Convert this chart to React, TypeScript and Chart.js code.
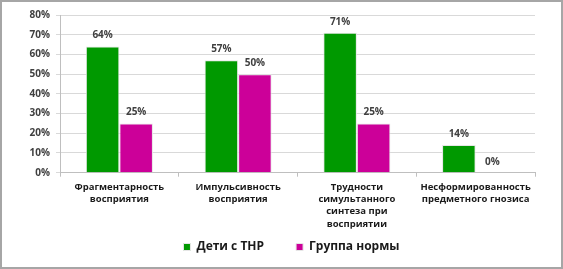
import React, { useEffect, useRef } from "react";
import { Chart, registerables } from "chart.js";

Chart.register(...registerables);

const categories: string[][] = [
  ["Фрагментарность", "восприятия"],
  ["Импульсивность", "восприятия"],
  ["Трудности", "симультанного", "синтеза при", "восприятии"],
  ["Несформированность", "предметного гнозиса"],
];
const seriesNames = ["Дети с ТНР", "Группа нормы"];
const childrenTNR = [64, 57, 71, 14];
const normGroup = [25, 50, 25, 0];
const yTicks = [0, 10, 20, 30, 40, 50, 60, 70, 80];

const GREEN = "#009900";
const PINK = "#cc0099";
const FONT = "'Open Sans', 'Noto Sans', sans-serif";

const valueLabels = {
  id: "valueLabels",
  afterDatasetsDraw(chart: any) {
    const ctx = chart.ctx;
    ctx.save();
    ctx.font = `bold 10px ${FONT}`;
    ctx.fillStyle = "#404040";
    ctx.textAlign = "center";
    ctx.textBaseline = "middle";
    chart.data.datasets.forEach((ds: any, di: number) => {
      const meta = chart.getDatasetMeta(di);
      meta.data.forEach((bar: any, i: number) => {
        ctx.fillText(`${ds.data[i]}%`, bar.x, bar.y - 11);
      });
    });
    ctx.restore();
  },
};

// move the legend box to its place under the axis labels
const legendShift = {
  id: "legendShift",
  beforeDraw(chart: any) {
    const lg = chart.legend;
    if (!lg) return;
    const dy = -19.7;
    const dx = 24;
    lg.top += dy;
    lg.bottom += dy;
    lg.left += dx;
    lg.right += dx;
  },
};

const frame = {
  id: "frame",
  afterDraw(chart: any) {
    const ctx = chart.ctx;
    ctx.save();
    ctx.strokeStyle = "#a6a6a6";
    ctx.lineWidth = 2;
    ctx.strokeRect(1, 1, chart.width - 2, chart.height - 2);
    ctx.restore();
  },
};

export default function App() {
  const ref = useRef<HTMLCanvasElement>(null);
  useEffect(() => {
    document.body.style.margin = "0";
    const chart = new Chart(ref.current!, {
      type: "bar",
      data: {
        labels: categories,
        datasets: [
          {
            label: seriesNames[0],
            data: childrenTNR,
            backgroundColor: GREEN,
            borderColor: "#e6e6e6",
            borderWidth: 1,
            categoryPercentage: 0.565,
            barPercentage: 1,
          },
          {
            label: seriesNames[1],
            data: normGroup,
            backgroundColor: PINK,
            borderColor: "#e6e6e6",
            borderWidth: 1,
            categoryPercentage: 0.565,
            barPercentage: 1,
          },
        ],
      },
      options: {
        animation: false,
        responsive: false,
        maintainAspectRatio: false,
        layout: { padding: { top: 15, left: 0, right: 28, bottom: -13.7 } },
        plugins: {
          tooltip: { enabled: false },
          legend: {
            position: "bottom",
            align: "center",
            labels: {
              boxWidth: 7,
              boxHeight: 7,
              padding: 32,
              color: "#1a1a1a",
              font: { family: FONT, size: 12, weight: "bold" },
            },
          },
        },
        scales: {
          x: {
            grid: {
              offset: true,
              drawOnChartArea: false,
              drawTicks: true,
              tickLength: 4,
              color: "#bfbfbf",
            },
            border: { color: "#bfbfbf" },
            ticks: {
              autoSkip: false,
              maxRotation: 0,
              minRotation: 0,
              padding: 4,
              color: "#1a1a1a",
              font: { family: FONT, size: 9.5, weight: "bold", lineHeight: 1.3 },
            },
            afterFit(scale: any) {
              scale.height = 56;
            },
          },
          y: {
            min: 0,
            max: 80,
            afterBuildTicks(scale: any) {
              scale.ticks = yTicks.map((v) => ({ value: v }));
            },
            grid: {
              color: "#d9d9d9",
              drawTicks: true,
              tickLength: 4,
            },
            border: { color: "#bfbfbf" },
            ticks: {
              padding: 6,
              color: "#404040",
              font: { family: FONT, size: 10, weight: "bold" },
              callback: (v: any) => `${v}%`,
            },
            afterFit(scale: any) {
              scale.width = 60;
            },
          },
        },
      },
      plugins: [valueLabels, legendShift, frame],
    });
    return () => chart.destroy();
  }, []);
  return (
    <div style={{ width: 563, height: 269 }}>
      <canvas ref={ref} width={563} height={269} style={{ display: "block" }} />
    </div>
  );
}
